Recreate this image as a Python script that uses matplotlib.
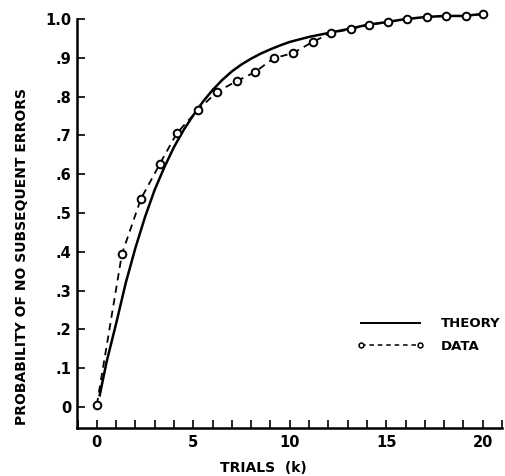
import matplotlib
matplotlib.use("Agg")
import matplotlib.pyplot as plt
from matplotlib.lines import Line2D
from matplotlib.ticker import MultipleLocator

data_k = [0, 1.30, 2.28, 3.26, 4.15, 5.23, 6.22, 7.25, 8.19, 9.17, 10.16,
          11.19, 12.12, 13.16, 14.09, 15.08, 16.06, 17.10, 18.08, 19.12, 20.0]
data_p = [0.005, 0.394, 0.536, 0.626, 0.706, 0.765, 0.812, 0.840, 0.863,
          0.899, 0.912, 0.941, 0.964, 0.974, 0.985, 0.992, 1.000, 1.005,
          1.008, 1.008, 1.013]

# theory curve, read point by point
theory_k = [0.15, 0.5, 1.0, 1.5, 2.0, 2.5, 3.0, 3.5, 4.0, 4.5, 5.0, 5.5,
            6.0, 6.5, 7.0, 7.5, 8.0, 8.5, 9.0, 9.5, 10.0, 11.0, 12.0, 13.0,
            14.0, 15.0, 16.0, 17.0, 18.0, 19.0, 20.0]
theory_p = [0.03, 0.115, 0.215, 0.32, 0.41, 0.49, 0.56, 0.618, 0.67, 0.714,
            0.752, 0.787, 0.817, 0.843, 0.865, 0.883, 0.898, 0.911, 0.922,
            0.932, 0.941, 0.954, 0.964, 0.974, 0.985, 0.992, 1.0, 1.005,
            1.008, 1.008, 1.013]

y_ticks = [0, 0.1, 0.2, 0.3, 0.4, 0.5, 0.6, 0.7, 0.8, 0.9, 1.0]
y_labels = ["0", ".1", ".2", ".3", ".4", ".5", ".6", ".7", ".8", ".9", "1.0"]
x_ticks = [0, 5, 10, 15, 20]

plt.rcParams["font.family"] = "DejaVu Sans"
plt.rcParams["font.weight"] = "bold"

fig = plt.figure(figsize=(5.05, 4.76), dpi=100)
ax = fig.add_axes([0.152, 0.101, 0.842, 0.859])

ax.plot(theory_k, theory_p, color="black", lw=1.8, clip_on=False)
ax.plot(data_k, data_p, color="black", lw=1.3, linestyle=(0, (4, 3)),
        marker="o", markersize=5.5, markerfacecolor="white",
        markeredgecolor="black", markeredgewidth=1.4, clip_on=False,
        zorder=3)

ax.set_xlim(-1.04, 21.0)
ax.set_ylim(-0.054, 1.0)

for side in ("top", "right"):
    ax.spines[side].set_visible(False)
for side in ("left", "bottom"):
    ax.spines[side].set_linewidth(1.8)

ax.set_yticks(y_ticks)
ax.set_yticklabels(y_labels)
ax.set_xticks(x_ticks)
ax.xaxis.set_minor_locator(MultipleLocator(1))
ax.tick_params(axis="y", direction="in", length=6, width=1.2, pad=4,
               labelsize=10.5)
ax.tick_params(axis="x", which="both", direction="in", length=5.5,
               width=1.2, pad=5, labelsize=10.5)

ax.set_ylabel("PROBABILITY OF NO SUBSEQUENT ERRORS", fontsize=10,
              fontweight="bold")
ax.yaxis.set_label_coords(-0.112, 0.42)
ax.set_xlabel("TRIALS  (k)", fontsize=10, fontweight="bold")
ax.xaxis.set_label_coords(0.44, -0.08)

h_theory = Line2D([], [], color="black", lw=1.4)
h_data = Line2D([], [], color="black", lw=1.1, linestyle=(0, (3, 2.5)),
                marker="o", markersize=3.5, markerfacecolor="white",
                markeredgecolor="black", markeredgewidth=1.1)
ax.legend([h_theory, h_data], ["THEORY", "DATA"], loc="center left",
          bbox_to_anchor=(0.66, 0.227), frameon=False, numpoints=2,
          handlelength=5.05, handletextpad=1.3, labelspacing=0.75,
          borderpad=0, borderaxespad=0,
          prop={"size": 9.5, "weight": "bold"})

fig.savefig("out.png", dpi=100)
